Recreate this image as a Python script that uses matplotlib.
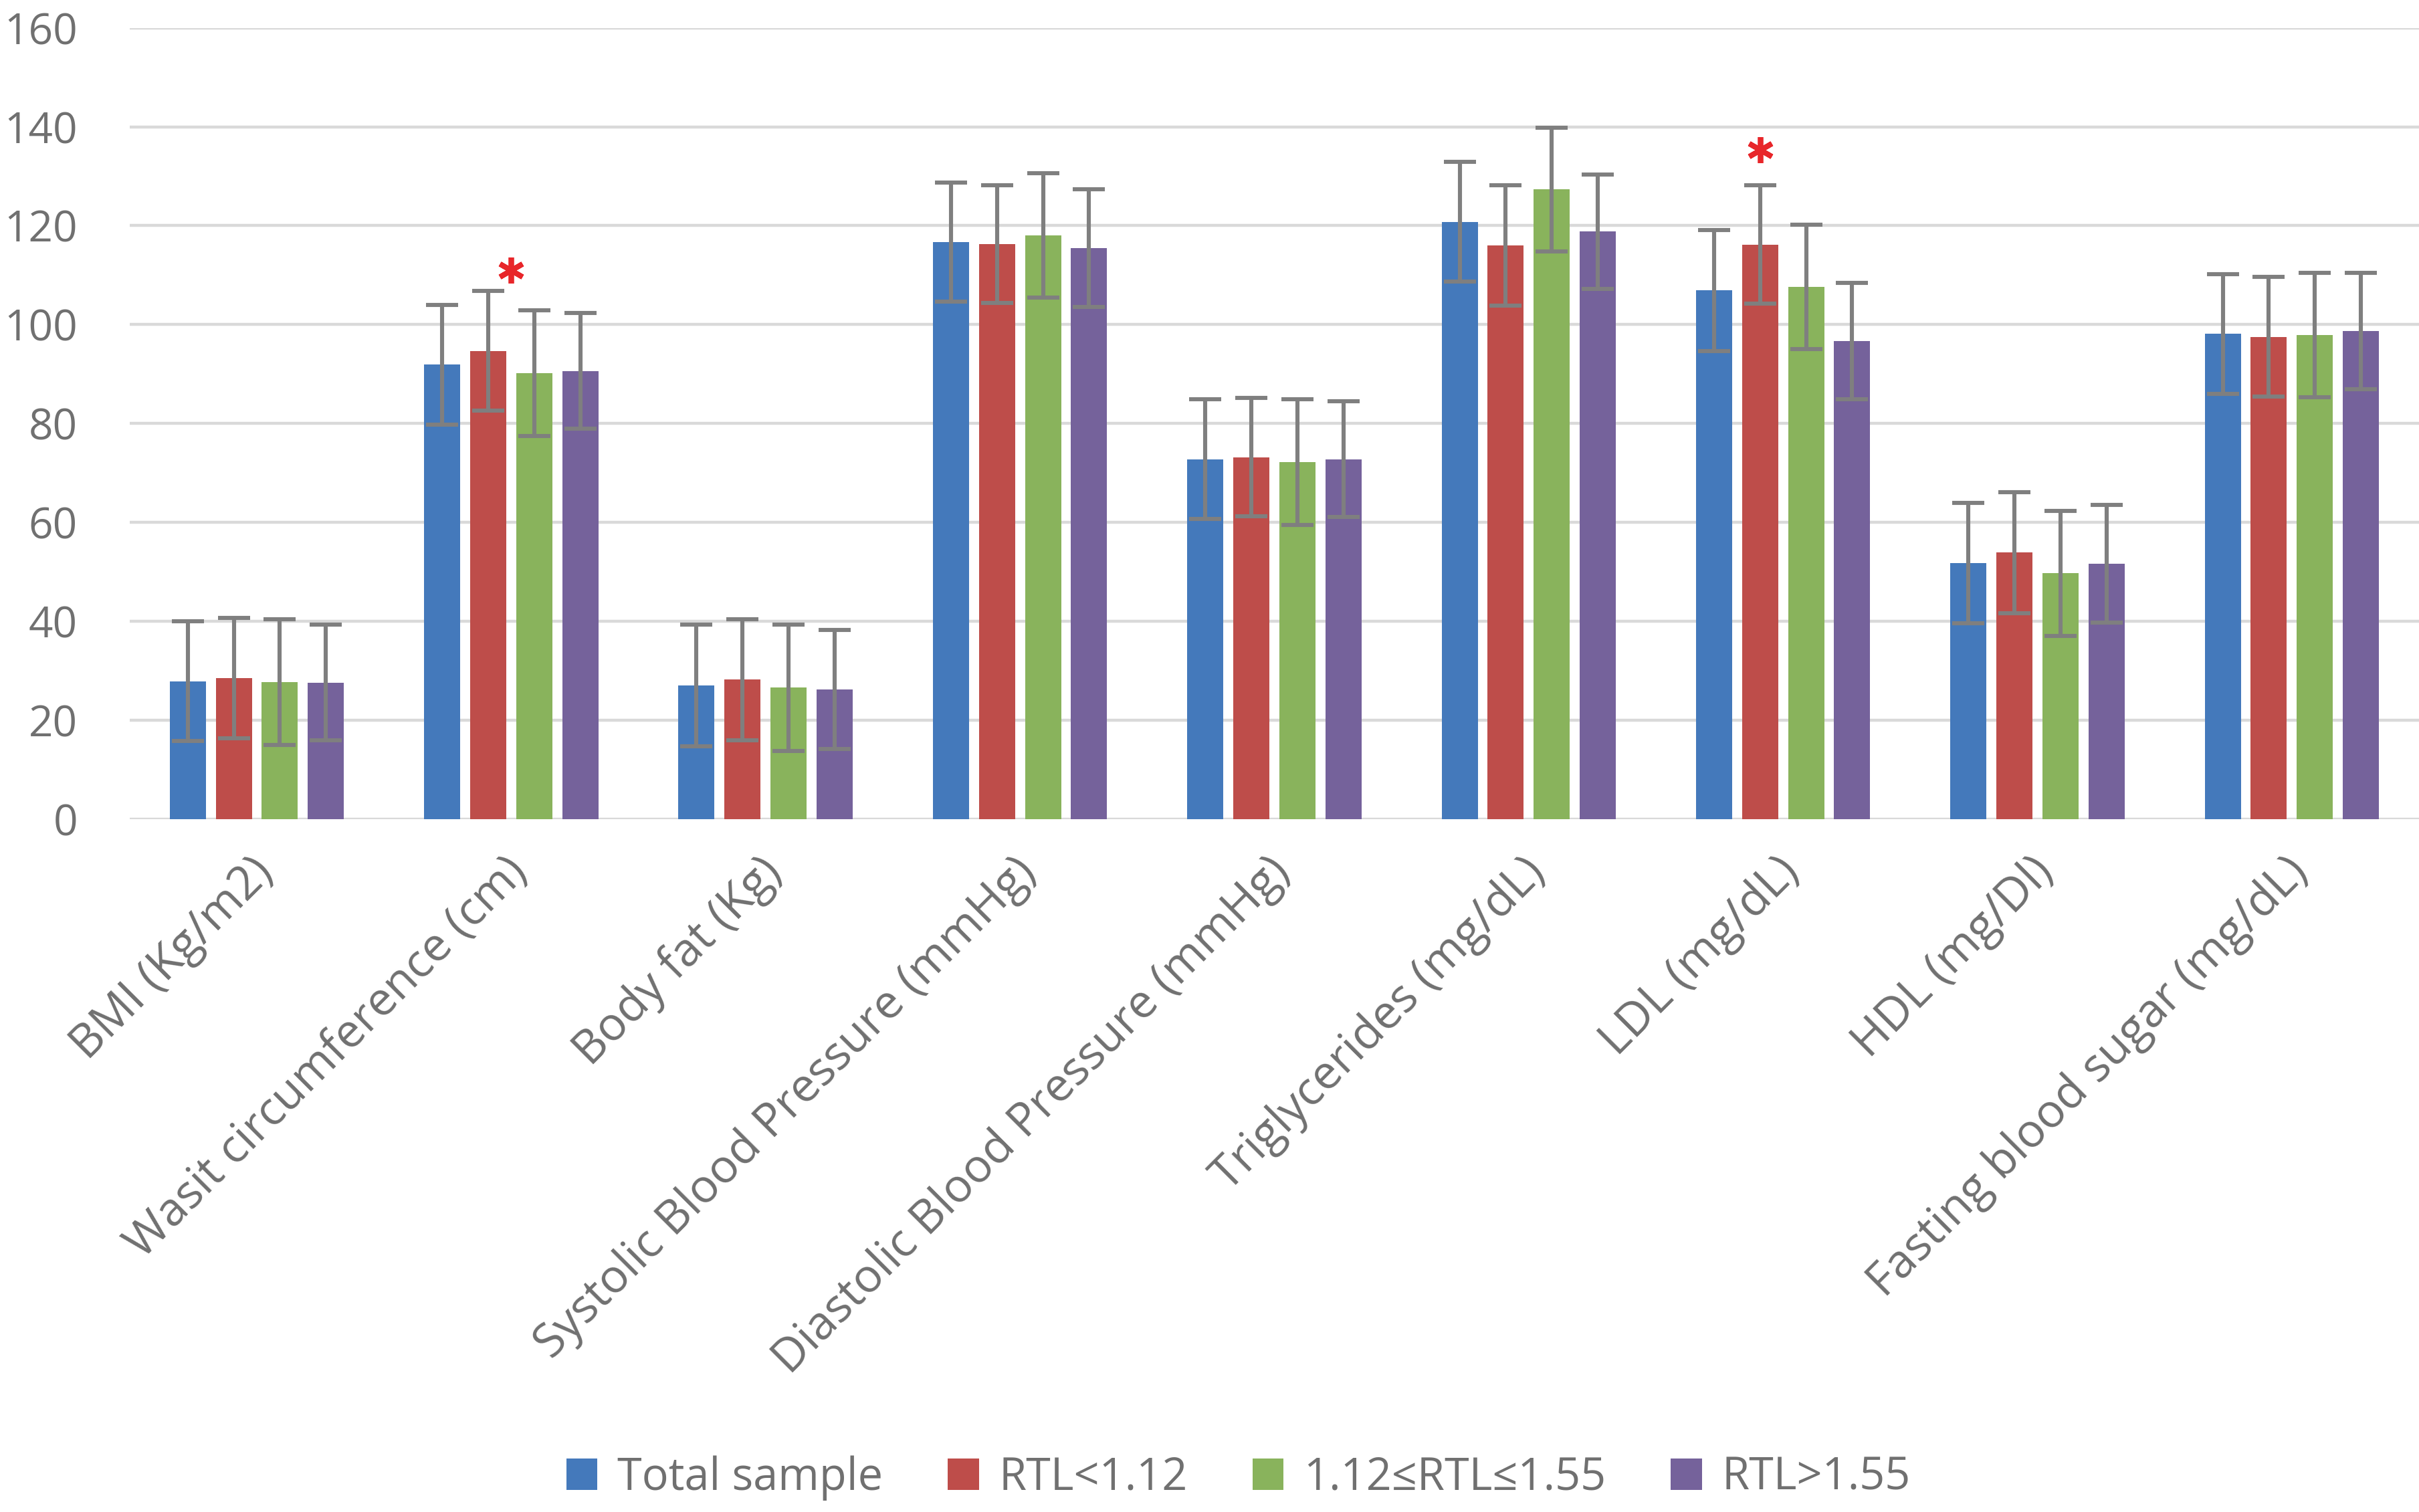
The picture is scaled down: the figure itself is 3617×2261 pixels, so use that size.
import numpy as np
import matplotlib
matplotlib.use("Agg")
import matplotlib.pyplot as plt
import matplotlib.transforms as mtransforms

# Data (mean and SD per group)
categories = ["BMI (Kg/m2)", "Wasit circumference (cm)", "Body fat (Kg)",
              "Systolic Blood Pressure (mmHg)", "Diastolic Blood Pressure (mmHg)",
              "Triglycerides (mg/dL)", "LDL (mg/dL)", "HDL (mg/Dl)",
              "Fasting blood sugar (mg/dL)"]
series_names = ["Total sample", "RTL<1.12", "1.12\u2264RTL\u22641.55", "RTL>1.55"]

total = [27.9, 91.9, 27.0, 116.7, 72.8, 120.8, 106.9, 51.8, 98.1]
total_sd = [12.1, 12.1, 12.3, 12.0, 12.1, 12.1, 12.2, 12.2, 12.1]
rtl_low = [28.5, 94.7, 28.2, 116.3, 73.2, 116.0, 116.2, 53.9, 97.5]
rtl_low_sd = [12.2, 12.1, 12.2, 11.9, 12.0, 12.2, 12.0, 12.2, 12.1]
rtl_mid = [27.7, 90.2, 26.6, 118.0, 72.2, 127.3, 107.6, 49.7, 97.9]
rtl_mid_sd = [12.7, 12.7, 12.8, 12.6, 12.7, 12.5, 12.6, 12.6, 12.6]
rtl_high = [27.6, 90.6, 26.2, 115.5, 72.8, 118.8, 96.7, 51.7, 98.7]
rtl_high_sd = [11.7, 11.7, 12.0, 11.9, 11.7, 11.6, 11.8, 11.9, 11.8]

# significance markers: (category index, bar offset index or None for centre, y value)
sig_cat = [1, 6]
sig_bar = [None, 1]
sig_y = [111.0, 135.4]

yticks = [0, 20, 40, 60, 80, 100, 120, 140, 160]

colors = ["#4479BB", "#BE4D4A", "#89B35C", "#75629B"]
text_gray = "#707070"
grid_gray = "#D9D9D9"
err_gray = "#7F7F7F"

plt.rcParams["font.family"] = ["Open Sans", "DejaVu Sans"]

fig = plt.figure(figsize=(18.085, 11.305), dpi=200)
ax = fig.add_axes([0.0536, 0.4582, 0.9464, 0.5234])

means = [total, rtl_low, rtl_mid, rtl_high]
sds = [total_sd, rtl_low_sd, rtl_mid_sd, rtl_high_sd]
x = np.arange(len(categories))
width = 0.142
pitch = 0.181

for i in range(4):
    pos = x + (i - 1.5) * pitch
    ax.bar(pos, means[i], width=width, color=colors[i], label=series_names[i], zorder=2)
    ax.errorbar(pos, means[i], yerr=sds[i], fmt="none", ecolor=err_gray,
                elinewidth=2.2, capsize=8.5, capthick=2.2, zorder=3)

for c, b, yv in zip(sig_cat, sig_bar, sig_y):
    xp = c if b is None else c + (b - 1.5) * pitch
    ax.plot([xp], [yv], marker=(6, 2, 0), markersize=14, markeredgewidth=2.8,
            color="#E8262A", linestyle="none", zorder=4)

ax.set_xlim(-0.5, len(categories) - 0.5)
ax.set_ylim(0, 160)
ax.set_yticks(yticks)
ax.yaxis.grid(True, color=grid_gray, linewidth=1.6, zorder=0)
ax.set_axisbelow(True)
for s in ax.spines.values():
    s.set_visible(False)

ax.tick_params(axis="y", length=0, pad=28, labelsize=23, labelcolor=text_gray)
ax.tick_params(axis="x", length=0, pad=16, labelsize=25, labelcolor=text_gray)
ax.set_xticks(x)
ax.set_xticklabels(categories, rotation=45, ha="right", va="top", rotation_mode="anchor")
shift = mtransforms.ScaledTranslation(-4 / 72, 0, fig.dpi_scale_trans)
for lab in ax.get_xticklabels():
    lab.set_transform(lab.get_transform() + shift)

fig.legend(loc="center", bbox_to_anchor=(0.512, 0.0226), ncol=4, frameon=False,
           fontsize=24, handlelength=0.7, handleheight=0.7, handletextpad=0.45,
           columnspacing=1.45, labelcolor=text_gray)

fig.savefig("out.png", dpi=200)
